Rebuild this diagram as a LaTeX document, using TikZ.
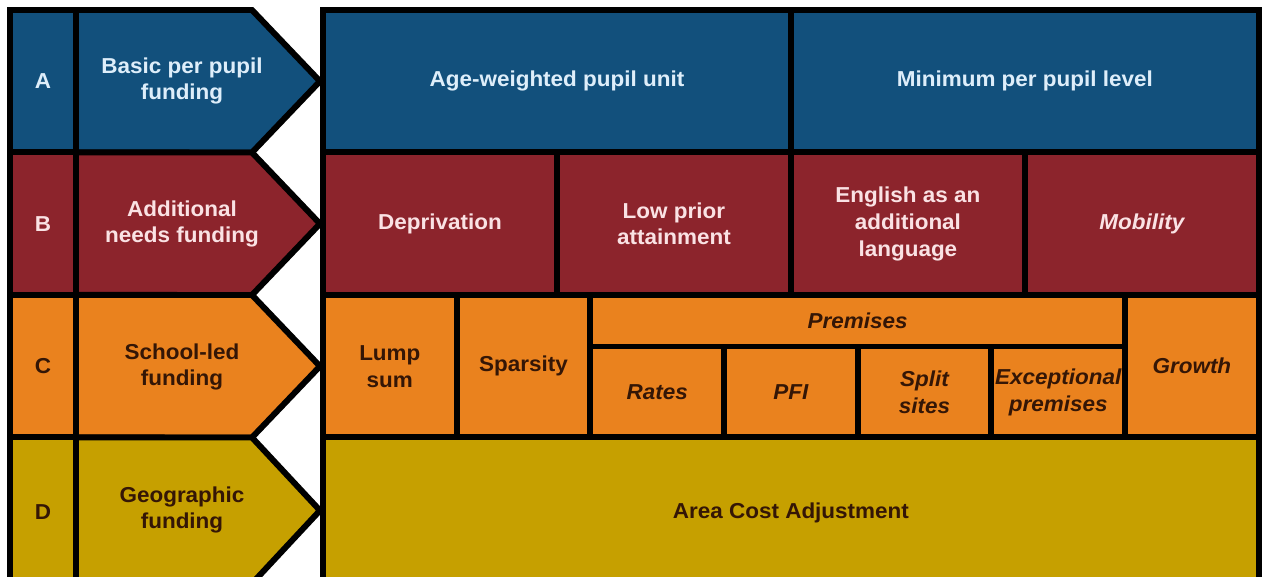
\documentclass[tikz,border=0pt]{standalone}
\usepackage{fontspec}
\setmainfont[FakeStretch=1.04]{Liberation Sans}
\usetikzlibrary{positioning}
\definecolor{fundblue}{RGB}{18,80,124}
\definecolor{fundred}{RGB}{140,36,44}
\definecolor{fundorange}{RGB}{234,130,30}
\definecolor{fundgold}{RGB}{198,160,0}
\definecolor{paleblue}{RGB}{222,238,250}
\definecolor{palepink}{RGB}{250,226,228}
\definecolor{darkbrown}{RGB}{52,22,6}

\begin{document}
\begin{tikzpicture}[x=0.02cm, y=-0.02cm,
	cell/.style={draw=black, line width=3.4pt, outer sep=0pt, inner sep=0pt, align=center, font=\bfseries\fontsize{12.3}{15.3}\selectfont},
	fundtext/.style={align=center, inner sep=0pt, font=\bfseries\fontsize{12.3}{15.3}\selectfont},
	cellA/.style={cell, fill=fundblue, text=paleblue}, cellB/.style={cell, fill=fundred, text=palepink},
	cellC/.style={cell, fill=fundorange, text=darkbrown}, cellD/.style={cell, fill=fundgold, text=darkbrown},
	chevron/.style={draw=black, line width=3.4pt, line join=miter},
	letterbox/.style={minimum width=1.32cm, minimum height=2.85cm}]
	
	\path[use as bounding box, fill=white] (0,0) rectangle (1264,577);
	\clip (0,0) rectangle (1264,577);
	
	\node [cellA, letterbox, anchor=north west] at (10,10) (1A) {A};
	\node [cellB, letterbox, anchor=north west] at (10,152.5) (2B) {B};
	\node [cellC, letterbox, anchor=north west] at (10,295) (3C) {C};
	\node [cellD, letterbox, anchor=north west, minimum height=3cm] at (10,437.5) (4D) {D};
	
	\draw [chevron, fill=fundblue] (1A.south east) -- (1A.north east) -- ++(176,0) -- ++(68,71.25) -- ++(-68,71.25) -- cycle;
	\draw [chevron, fill=fundred] (2B.south east) -- (2B.north east) -- ++(176,0) -- ++(68,71.25) -- ++(-68,71.25) -- cycle;
	\draw [chevron, fill=fundorange] (3C.south east) -- (3C.north east) -- ++(176,0) -- ++(68,71.25) -- ++(-68,71.25) -- cycle;
	\draw [chevron, fill=fundgold] (4D.south east) -- (4D.north east) -- ++(176,0) -- ++(68,73) -- ++(-68,73) -- cycle;
	
	\node [fundtext, text=paleblue] at (182,81) (1Basic) {Basic per pupil\\funding};
	\node [fundtext, text=palepink] at (182,224) (2Additional) {Additional\\needs funding};
	\node [fundtext, text=darkbrown] at (182,367) (3School) {School-led\\funding};
	\node [fundtext, text=darkbrown] at (182,510) (4Geographic) {Geographic\\funding};
	
	\node [cellA, anchor=north west, minimum width=9.36cm, minimum height=2.85cm] at (323,10) (1Age) {Age-weighted pupil unit};
	\node [cellA, right=0pt of 1Age, minimum width=9.36cm, minimum height=2.85cm] (1Minimum) {Minimum per pupil level};
	
	\node [cellB, anchor=north west, minimum width=4.68cm, minimum height=2.85cm] at (323,152.5) (2Deprivation) {Deprivation};
	\node [cellB, right=0pt of 2Deprivation, minimum width=4.68cm, minimum height=2.85cm] (2Low) {Low prior\\attainment};
	\node [cellB, right=0pt of 2Low, minimum width=4.68cm, minimum height=2.85cm] (2English) {English as an\\additional\\language};
	\node [cellB, right=0pt of 2English, minimum width=4.68cm, minimum height=2.85cm] (2Mobility) {\itshape Mobility};
	
	\node [cellC, anchor=north west, minimum width=2.674cm, minimum height=2.85cm] at (323,295) (3Lump) {Lump\\sum};
	\node [cellC, right=0pt of 3Lump, minimum width=2.674cm, minimum height=2.85cm] (3Sparsity) {Sparsity};
	\node [cellC, below right=0pt and 0pt of 3Sparsity.north east, minimum width=10.696cm, minimum height=1.03cm] (3Premises) {\itshape Premises};
	\node [cellC, below right=0pt and 0pt of 3Premises.south west, minimum width=2.674cm, minimum height=1.82cm] (3Rates) {\itshape Rates};
	\node [cellC, right=0pt of 3Rates, minimum width=2.674cm, minimum height=1.82cm] (3PFI) {\itshape PFI};
	\node [cellC, right=0pt of 3PFI, minimum width=2.674cm, minimum height=1.82cm] (3Split) {\itshape Split\\\itshape sites};
	\node [cellC, right=0pt of 3Split, minimum width=2.674cm, minimum height=1.82cm] (3Exceptional) {\itshape Exceptional\\\itshape premises};
	\node [cellC, below right=0pt and 0pt of 3Premises.north east, minimum width=2.674cm, minimum height=2.85cm] (3Growth) {\itshape Growth};
	
	\node [cellD, anchor=north west, minimum width=18.72cm, minimum height=3cm] at (323,437.5) (4Area) {Area Cost Adjustment};
	
\end{tikzpicture}
\end{document}
